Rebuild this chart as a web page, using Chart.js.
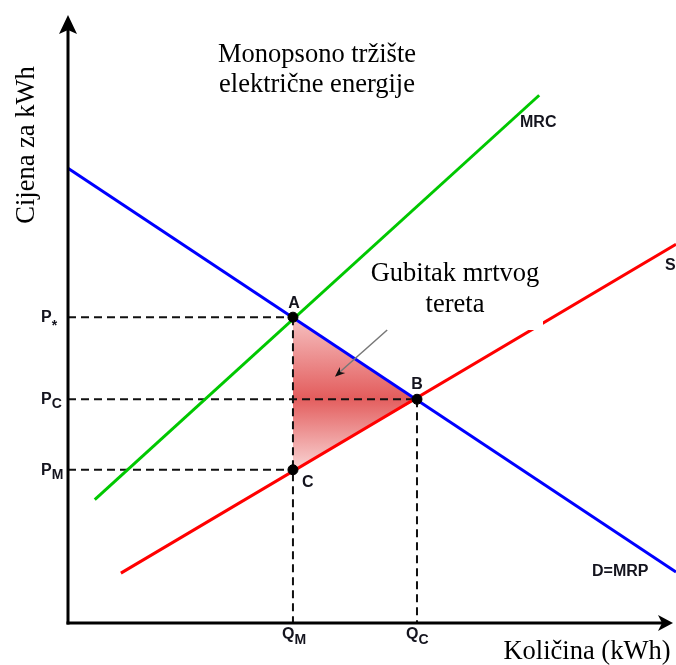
<!DOCTYPE html>
<html><head><meta charset="utf-8">
<script src="https://cdn.jsdelivr.net/npm/chart.js@4.4.0/dist/chart.umd.min.js"></script>
<style>html,body{margin:0;padding:0;background:#fff;} #wrap{width:676px;height:665px;position:relative;}</style>
</head><body><div id="wrap"><canvas id="c"></canvas></div>
<script>
// ---- data (axis units 0..100) ----
const demandX = [0, 100],   demandY = [74.8, 8.4];
const mrcX    = [4.4, 77.5], mrcY   = [20.3, 86.8];
const supplyX = [8.7, 100],  supplyY = [8.2, 62.3];
const quantities   = [37.0, 57.4];          // Q_M, Q_C
const quantityNames = ['Q', 'Q'];
const quantitySubs  = ['M', 'C'];
const prices     = [50.3, 36.8, 25.2];      // P*, P_C, P_M
const priceNames = ['P', 'P', 'P'];
const priceSubs  = ['*', 'C', 'M'];
const pointNames = ['A', 'B', 'C'];
const pointX = [37.0, 57.4, 37.0];
const pointY = [50.3, 36.8, 25.2];
const curveNames = ['MRC', 'S', 'D=MRP'];
const arrowX = [52.5, 43.9], arrowY = [48.2, 40.5];
const titleLines = ['Monopsono tržište', 'električne energije'];
const noteLines = ['Gubitak mrtvog', 'tereta'];
const yTitle = 'Cijena za kWh';
const xTitle = 'Količina (kWh)';

const pts = (xs, ys) => xs.map((x, i) => ({x, y: ys[i]}));

const dashed = [];
pointX.forEach((x, i) => dashed.push([{x: 0, y: pointY[i]}, {x, y: pointY[i]}]));
quantities.forEach((q, i) => dashed.push([{x: q, y: prices[i]}, {x: q, y: 0}]));

const datasets = [];
datasets.push({label: 'points', data: pts(pointX, pointY), showLine: false, pointRadius: 5,
  pointBackgroundColor: '#000', pointBorderColor: '#000', order: 0});
datasets.push({label: 'D', data: pts(demandX, demandY), showLine: true, borderColor: '#0000ff', borderWidth: 3, pointRadius: 0, order: 1, clip: false});
datasets.push({label: 'MRC', data: pts(mrcX, mrcY), showLine: true, borderColor: '#00c800', borderWidth: 3, pointRadius: 0, order: 1, clip: false});
datasets.push({label: 'S', data: pts(supplyX, supplyY), showLine: true, borderColor: '#ff0000', borderWidth: 3, pointRadius: 0, order: 1, clip: false});
dashed.forEach((d, i) => datasets.push({label: 'dash' + i, data: d, showLine: true, borderColor: '#111', borderWidth: 2,
  borderDash: [8, 5], pointRadius: 0, order: 5}));
const gradFill = (ctx) => {
  const ch = ctx.chart;
  if (!ch.chartArea || !ch.scales.y) return 'rgba(230,95,95,0.8)';
  const ys = ch.scales.y;
  const top = ys.getPixelForValue(pointY[0]), bot = ys.getPixelForValue(pointY[2]);
  const g = ch.ctx.createLinearGradient(0, top, 0, bot);
  g.addColorStop(0, '#f6c2c2');
  g.addColorStop(0.53, '#e35d5d');
  g.addColorStop(1, '#f9d4d4');
  return g;
};
datasets.push({label: 'dwlUpper', data: [{x: pointX[0], y: pointY[0]}, {x: pointX[1], y: pointY[1]}], showLine: true,
  borderWidth: 0, borderColor: 'rgba(0,0,0,0)', pointRadius: 0, fill: '+1', backgroundColor: gradFill, order: 10});
datasets.push({label: 'dwlLower', data: [{x: pointX[2], y: pointY[2]}, {x: pointX[1], y: pointY[1]}], showLine: true,
  borderWidth: 0, borderColor: 'rgba(0,0,0,0)', pointRadius: 0, fill: false, order: 11});

function subLabel(ctx, x, y, main, sub, mainSize, subSize, subDrop) {
  ctx.font = 'bold ' + mainSize + 'px "Liberation Sans", Arial, sans-serif';
  ctx.textAlign = 'left'; ctx.textBaseline = 'alphabetic';
  ctx.fillText(main, x, y);
  const w = ctx.measureText(main).width;
  ctx.font = 'bold ' + subSize + 'px "Liberation Sans", Arial, sans-serif';
  ctx.fillText(sub, x + w, y + subDrop);
}

const decor = {
  id: 'decor',
  afterDatasetsDraw(chart) {
    const {ctx, chartArea: a, scales: {x: xs, y: ys}} = chart;
    ctx.save();
    // white box behind note
    ctx.fillStyle = '#fff';
    ctx.fillRect(372, 258, 171, 72);
    // axes
    ctx.strokeStyle = '#000'; ctx.fillStyle = '#000'; ctx.lineWidth = 3;
    ctx.beginPath(); ctx.moveTo(a.left, a.bottom + 1.5); ctx.lineTo(a.left, a.top + 12); ctx.stroke();
    ctx.beginPath(); ctx.moveTo(a.left - 1.5, a.bottom); ctx.lineTo(a.right - 12, a.bottom); ctx.stroke();
    ctx.beginPath();
    ctx.moveTo(a.left, a.top); ctx.lineTo(a.left - 9, a.top + 19); ctx.lineTo(a.left, a.top + 15); ctx.lineTo(a.left + 9, a.top + 19);
    ctx.closePath(); ctx.fill();
    const tx = a.right - 3;
    ctx.beginPath();
    ctx.moveTo(tx, a.bottom); ctx.lineTo(tx - 15, a.bottom - 8); ctx.lineTo(tx - 11, a.bottom); ctx.lineTo(tx - 15, a.bottom + 8);
    ctx.closePath(); ctx.fill();
    // arrow to deadweight loss
    const ax0 = xs.getPixelForValue(arrowX[0]), ay0 = ys.getPixelForValue(arrowY[0]);
    const ax1 = xs.getPixelForValue(arrowX[1]), ay1 = ys.getPixelForValue(arrowY[1]);
    ctx.strokeStyle = '#777'; ctx.lineWidth = 1.5;
    ctx.beginPath(); ctx.moveTo(ax0, ay0); ctx.lineTo(ax1 + 3, ay1 - 3); ctx.stroke();
    const ang = Math.atan2(ay1 - ay0, ax1 - ax0);
    ctx.fillStyle = '#111';
    ctx.beginPath();
    ctx.moveTo(ax1, ay1);
    ctx.lineTo(ax1 - 11 * Math.cos(ang - 0.38), ay1 - 11 * Math.sin(ang - 0.38));
    ctx.lineTo(ax1 - 7 * Math.cos(ang), ay1 - 7 * Math.sin(ang));
    ctx.lineTo(ax1 - 11 * Math.cos(ang + 0.38), ay1 - 11 * Math.sin(ang + 0.38));
    ctx.closePath(); ctx.fill();
    // serif texts
    ctx.fillStyle = '#000';
    ctx.font = '26.5px "Liberation Serif", "Times New Roman", serif';
    ctx.textAlign = 'center'; ctx.textBaseline = 'alphabetic';
    ctx.fillText(titleLines[0], 317, 62);
    ctx.fillText(titleLines[1], 317, 92);
    ctx.fillText(noteLines[0], 455, 281);
    ctx.fillText(noteLines[1], 455, 312);
    ctx.fillText(xTitle, 587, 659);
    ctx.save();
    ctx.translate(34, 145); ctx.rotate(-Math.PI / 2);
    ctx.fillText(yTitle, 0, 0);
    ctx.restore();
    // curve labels
    ctx.fillStyle = '#14141e';
    ctx.font = 'bold 16px "Liberation Sans", Arial, sans-serif';
    ctx.textAlign = 'left';
    ctx.fillText(curveNames[0], 520, 127);
    ctx.fillText(curveNames[1], 665, 270);
    ctx.fillText(curveNames[2], 592, 576);
    // point labels
    const px = pointX.map(v => xs.getPixelForValue(v)), py = pointY.map(v => ys.getPixelForValue(v));
    ctx.textAlign = 'center';
    ctx.fillText(pointNames[0], px[0] + 1, py[0] - 9);
    ctx.fillText(pointNames[1], px[1], py[1] - 10);
    ctx.textAlign = 'left';
    ctx.fillText(pointNames[2], px[2] + 9, py[2] + 17);
    // price labels
    prices.forEach((p, i) => {
      const y = ys.getPixelForValue(p);
      subLabel(ctx, 41, y + 5, priceNames[i], priceSubs[i], 16, 14, i === 0 ? 8 : 4);
    });
    quantities.forEach((q, i) => {
      const x = xs.getPixelForValue(q);
      subLabel(ctx, x - 11, 639, quantityNames[i], quantitySubs[i], 16, 14, 5);
    });
    ctx.restore();
  }
};

new Chart(document.getElementById('c'), {
  type: 'scatter',
  data: {datasets},
  options: {
    responsive: true, maintainAspectRatio: false, animation: false,
    layout: {autoPadding: false, padding: {left: 68, top: 15, right: 0, bottom: 42}},
    plugins: {legend: {display: false}, tooltip: {enabled: false}},
    scales: {
      x: {type: 'linear', min: 0, max: 100, display: false},
      y: {type: 'linear', min: 0, max: 100, display: false}
    }
  },
  plugins: [decor]
});
</script></body></html>
